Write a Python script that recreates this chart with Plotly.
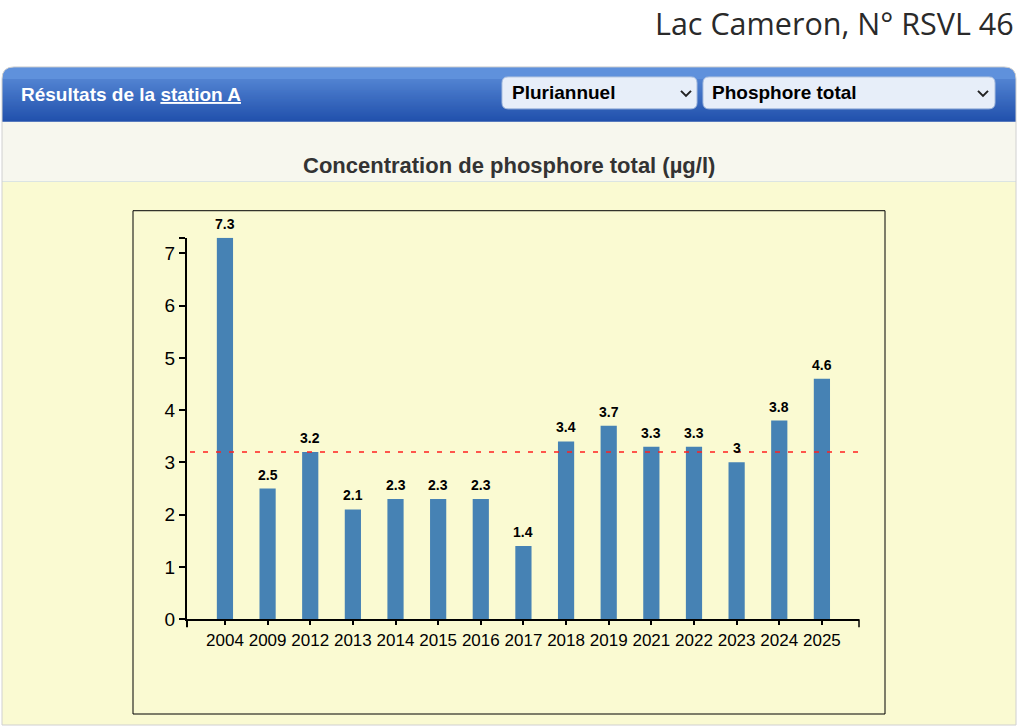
import plotly.graph_objects as go

# Données
annees = ["2004", "2009", "2012", "2013", "2014", "2015", "2016", "2017",
          "2018", "2019", "2021", "2022", "2023", "2024", "2025"]
phosphore = [7.3, 2.5, 3.2, 2.1, 2.3, 2.3, 2.3, 1.4, 3.4, 3.7, 3.3, 3.3, 3.0, 3.8, 4.6]
seuil = 3.2
y_ticks = [0, 1, 2, 3, 4, 5, 6, 7]
y_max = 7.3

W, H = 1021, 726


# pixels -> coordonnées papier
def px(x):
    return x / W


def py(y):
    return 1 - y / H


def rect(x0, y0, x1, y1, fill, line_color=None, line_width=0):
    return dict(type="rect", xref="paper", yref="paper", layer="below",
                x0=px(x0), x1=px(x1), y0=py(y1), y1=py(y0),
                fillcolor=fill, line=dict(color=line_color or fill, width=line_width))


def rounded(x0, y0, x1, y1, r, fill, line_color=None, line_width=0, bottom_round=True):
    pts = "M %f,%f " % (px(x0), py(y1 - (r if bottom_round else 0)))
    pts += "L %f,%f " % (px(x0), py(y0 + r))
    pts += "Q %f,%f %f,%f " % (px(x0), py(y0), px(x0 + r), py(y0))
    pts += "L %f,%f " % (px(x1 - r), py(y0))
    pts += "Q %f,%f %f,%f " % (px(x1), py(y0), px(x1), py(y0 + r))
    if bottom_round:
        pts += "L %f,%f " % (px(x1), py(y1 - r))
        pts += "Q %f,%f %f,%f " % (px(x1), py(y1), px(x1 - r), py(y1))
        pts += "L %f,%f " % (px(x0 + r), py(y1))
        pts += "Q %f,%f %f,%f Z" % (px(x0), py(y1), px(x0), py(y1 - r))
    else:
        pts += "L %f,%f " % (px(x1), py(y1))
        pts += "L %f,%f Z" % (px(x0), py(y1))
    return dict(type="path", xref="paper", yref="paper", layer="below", path=pts,
                fillcolor=fill, line=dict(color=line_color or fill, width=line_width))


def chevron(cx, cy):
    p = "M %f,%f L %f,%f L %f,%f" % (px(cx - 5), py(cy - 2), px(cx), py(cy + 3),
                                     px(cx + 5), py(cy - 2))
    return dict(type="path", xref="paper", yref="paper", layer="below", path=p,
                line=dict(color="#222222", width=2))


shapes = []
# panneau + en-tête bleu
shapes.append(rounded(2, 67, 1016, 726, 12, "rgb(95,145,220)", bottom_round=False))
top_c = (95, 145, 220)
bot_c = (33, 80, 172)
for i in range(79, 122):
    t = (i - 67) / (122 - 67)
    c = tuple(int(top_c[k] + (bot_c[k] - top_c[k]) * t) for k in range(3))
    shapes.append(rect(2, i, 1016, i + 1.2, "rgb(%d,%d,%d)" % c))
shapes.append(rect(2, 122, 1016, 182, "#f7f7ee"))
shapes.append(rect(2, 182, 1016, 726, "#fafad2"))
shapes.append(rounded(2, 67, 1016, 726, 12, "rgba(0,0,0,0)", "#d0d0d0", 1, bottom_round=False))
# listes déroulantes
shapes.append(rounded(502, 77, 697, 109, 6, "#e7eef9", "#a9bedf", 1))
shapes.append(rounded(703, 77, 995, 109, 6, "#e7eef9", "#a9bedf", 1))
shapes.append(chevron(686, 93))
shapes.append(chevron(983, 93))
# cadre du graphique
shapes.append(rect(133, 211, 885, 715, "#fafad2", "black", 1))
# ligne de seuil
shapes.append(dict(type="line", xref="paper", yref="y", x0=px(190), x1=px(858),
                   y0=seuil, y1=seuil, line=dict(color="#ff2020", width=1.5, dash="5px,8px")))
# prolongements des axes
shapes.append(dict(type="line", xref="x domain", yref="paper", x0=1, x1=1,
                   y0=py(620), y1=py(628), line=dict(color="black", width=1.5)))
shapes.append(dict(type="line", xref="x domain", yref="paper", x0=0, x1=0,
                   y0=py(620), y1=py(628), line=dict(color="black", width=2)))

annotations = [
    dict(text="Lac Cameron, N° RSVL 46",
         xref="paper", yref="paper",
         x=px(1016), y=py(0), xanchor="right", yanchor="top", showarrow=False,
         font=dict(family="Open Sans", size=30.5, color="#2a2a2a", weight=400)),
    dict(text="<b>Résultats de la <u>station A</u></b>", xref="paper", yref="paper",
         x=px(19), y=py(95), xanchor="left", yanchor="middle", showarrow=False,
         font=dict(family="Liberation Sans, Arial", size=19, color="white")),
    dict(text="<b>Pluriannuel</b>", xref="paper", yref="paper",
         x=px(510), y=py(93), xanchor="left", yanchor="middle", showarrow=False,
         font=dict(family="Liberation Sans, Arial", size=19, color="black")),
    dict(text="<b>Phosphore total</b>", xref="paper", yref="paper",
         x=px(710), y=py(93), xanchor="left", yanchor="middle", showarrow=False,
         font=dict(family="Liberation Sans, Arial", size=19, color="black")),
    dict(text="<b>Concentration de phosphore total (µg/l)</b>", xref="paper",
         yref="paper", x=px(509), y=py(166), xanchor="center", yanchor="middle",
         showarrow=False,
         font=dict(family="Liberation Sans, Arial", size=22, color="#333333")),
]
# étiquettes de valeur au-dessus des barres (position = indice de catégorie)
for i, v in enumerate(phosphore):
    annotations.append(dict(text="<b>%g</b>" % v, x=i, y=v, xref="x", yref="y",
                            xanchor="center", yanchor="bottom", yshift=4, showarrow=False,
                            font=dict(family="Liberation Sans, Arial", size=14,
                                      color="black")))

fig = go.Figure(
    data=[go.Bar(x=annees, y=phosphore,
                 marker=dict(color="#4682b4", line=dict(width=0)),
                 width=0.38,
                 cliponaxis=False,
                 hoverinfo="x+y")],
    layout=go.Layout(
        width=W, height=736,
        margin=dict(l=0, r=0, t=0, b=0),
        paper_bgcolor="white",
        plot_bgcolor="rgba(0,0,0,0)",
        showlegend=False,
        xaxis=dict(domain=[px(187), px(859)], type="category",
                   range=[-0.89, 14.87], showline=True, linecolor="black", linewidth=2,
                   ticks="outside", ticklen=4, tickcolor="black", tickwidth=1.5,
                   showgrid=False, zeroline=False,
                   tickfont=dict(family="Liberation Sans, Arial", size=17, color="black")),
        yaxis=dict(domain=[py(620), py(238)], range=[0, y_max],
                   tickvals=y_ticks + [y_max], ticktext=[str(v) for v in y_ticks] + [""],
                   showline=True, linecolor="black", linewidth=2,
                   ticks="outside", ticklen=6, tickcolor="black", tickwidth=1.5,
                   showgrid=False, zeroline=False,
                   tickfont=dict(family="Liberation Sans, Arial", size=19, color="black")),
        shapes=shapes,
        annotations=annotations,
    ),
)

fig.write_html("out.html", config={"displayModeBar": False},
               post_script="document.body.style.margin='0';")
